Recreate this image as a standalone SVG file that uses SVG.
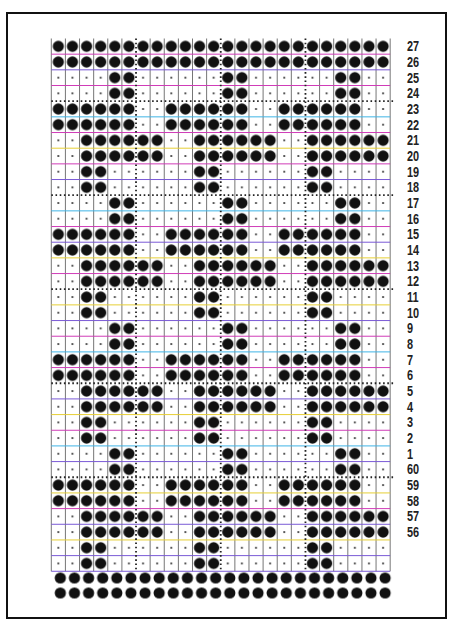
<svg xmlns="http://www.w3.org/2000/svg" xmlns:xlink="http://www.w3.org/1999/xlink" width="451" height="624" viewBox="0 0 451 624">
<style>
.bg{fill:#fff}
.frame{fill:none;stroke:#111;stroke-width:2}
.v{fill:none;stroke:#666;stroke-width:0.9}
.hm{stroke:#d03cb8;stroke-width:1}
.hc{stroke:#3fb4e6;stroke-width:1}
.hp{stroke:#7a5ad6;stroke-width:1}
.hy{stroke:#e6cf35;stroke-width:1}
.dot{fill:none;stroke:#222;stroke-width:1.8;stroke-dasharray:1.6 2.6}
.B{fill:#111}
.S{fill:#333}
.lbl{font-family:"Liberation Sans",Arial,sans-serif;font-size:14px;font-weight:bold;fill:#222}
</style>
<defs>
<circle id="b" class="B" r="5.6"/>
<circle id="s" class="S" r="1.1"/>
<pattern id="pA" patternUnits="userSpaceOnUse" x="51.3" y="38.5" width="112.96" height="31.34">
<g id="rA"><use href="#b" x="7.06" y="7.835"/><use href="#b" x="21.18" y="7.835"/><use href="#b" x="35.3" y="7.835"/><use href="#b" x="49.42" y="7.835"/><use href="#b" x="63.54" y="7.835"/><use href="#b" x="77.66" y="7.835"/><use href="#b" x="91.78" y="7.835"/><use href="#b" x="105.9" y="7.835"/></g>
<use href="#rA" y="15.67"/>
</pattern>
<pattern id="pB" patternUnits="userSpaceOnUse" x="51.3" y="38.5" width="112.96" height="31.34">
<g id="rB"><use href="#s" x="7.06" y="7.835"/><use href="#s" x="21.18" y="7.835"/><use href="#s" x="35.3" y="7.835"/><use href="#s" x="49.42" y="7.835"/><use href="#b" x="63.54" y="7.835"/><use href="#b" x="77.66" y="7.835"/><use href="#s" x="91.78" y="7.835"/><use href="#s" x="105.9" y="7.835"/></g>
<use href="#rB" y="15.67"/>
</pattern>
<pattern id="pC" patternUnits="userSpaceOnUse" x="51.3" y="38.5" width="112.96" height="31.34">
<g id="rC"><use href="#b" x="7.06" y="7.835"/><use href="#b" x="21.18" y="7.835"/><use href="#b" x="35.3" y="7.835"/><use href="#b" x="49.42" y="7.835"/><use href="#b" x="63.54" y="7.835"/><use href="#b" x="77.66" y="7.835"/><use href="#s" x="91.78" y="7.835"/><use href="#s" x="105.9" y="7.835"/></g>
<use href="#rC" y="15.67"/>
</pattern>
<pattern id="pD" patternUnits="userSpaceOnUse" x="51.3" y="38.5" width="112.96" height="31.34">
<g id="rD"><use href="#s" x="7.06" y="7.835"/><use href="#s" x="21.18" y="7.835"/><use href="#b" x="35.3" y="7.835"/><use href="#b" x="49.42" y="7.835"/><use href="#b" x="63.54" y="7.835"/><use href="#b" x="77.66" y="7.835"/><use href="#b" x="91.78" y="7.835"/><use href="#b" x="105.9" y="7.835"/></g>
<use href="#rD" y="15.67"/>
</pattern>
<pattern id="pE" patternUnits="userSpaceOnUse" x="51.3" y="38.5" width="112.96" height="31.34">
<g id="rE"><use href="#s" x="7.06" y="7.835"/><use href="#s" x="21.18" y="7.835"/><use href="#b" x="35.3" y="7.835"/><use href="#b" x="49.42" y="7.835"/><use href="#s" x="63.54" y="7.835"/><use href="#s" x="77.66" y="7.835"/><use href="#s" x="91.78" y="7.835"/><use href="#s" x="105.9" y="7.835"/></g>
<use href="#rE" y="15.67"/>
</pattern>
<pattern id="pF" patternUnits="userSpaceOnUse" x="53.3" y="570.5" width="14.12" height="15">
<use href="#b" x="7.06" y="7.5"/>
</pattern>
</defs>

<rect class="bg" x="0" y="0" width="451" height="624"/>
<rect class="frame" x="7" y="13" width="439" height="605"/>

<g id="grid">
<path class="v" d="M51.3 38.5v532.8M65.42 38.5v532.8M79.54 38.5v532.8M93.66 38.5v532.8M107.78 38.5v532.8M121.9 38.5v532.8M150.14 38.5v532.8M164.26 38.5v532.8M178.38 38.5v532.8M192.5 38.5v532.8M206.62 38.5v532.8M234.86 38.5v532.8M248.98 38.5v532.8M263.1 38.5v532.8M277.22 38.5v532.8M291.34 38.5v532.8M319.58 38.5v532.8M333.7 38.5v532.8M347.82 38.5v532.8M361.94 38.5v532.8M376.06 38.5v532.8M390.18 38.5v532.8"/>
<g id="hlines">
<line class="hm" x1="51.3" y1="54.17" x2="390.18" y2="54.17"/>
<line class="hp" x1="51.3" y1="69.84" x2="390.18" y2="69.84"/>
<line class="hm" x1="51.3" y1="85.51" x2="390.18" y2="85.51"/>
<line class="hc" x1="51.3" y1="116.85" x2="390.18" y2="116.85"/>
<line class="hm" x1="51.3" y1="132.52" x2="390.18" y2="132.52"/>
<line class="hy" x1="51.3" y1="148.19" x2="390.18" y2="148.19"/>
<line class="hm" x1="51.3" y1="163.86" x2="390.18" y2="163.86"/>
<line class="hp" x1="51.3" y1="179.53" x2="390.18" y2="179.53"/>
<line class="hc" x1="51.3" y1="210.87" x2="390.18" y2="210.87"/>
<line class="hm" x1="51.3" y1="226.54" x2="390.18" y2="226.54"/>
<line class="hp" x1="51.3" y1="242.21" x2="390.18" y2="242.21"/>
<line class="hy" x1="51.3" y1="257.88" x2="390.18" y2="257.88"/>
<line class="hm" x1="51.3" y1="273.55" x2="390.18" y2="273.55"/>
<line class="hy" x1="51.3" y1="304.89" x2="390.18" y2="304.89"/>
<line class="hp" x1="51.3" y1="320.56" x2="390.18" y2="320.56"/>
<line class="hm" x1="51.3" y1="336.23" x2="390.18" y2="336.23"/>
<line class="hc" x1="51.3" y1="351.9" x2="390.18" y2="351.9"/>
<line class="hm" x1="51.3" y1="367.57" x2="390.18" y2="367.57"/>
<line class="hp" x1="51.3" y1="398.91" x2="390.18" y2="398.91"/>
<line class="hy" x1="51.3" y1="414.58" x2="390.18" y2="414.58"/>
<line class="hm" x1="51.3" y1="430.25" x2="390.18" y2="430.25"/>
<line class="hc" x1="51.3" y1="445.92" x2="390.18" y2="445.92"/>
<line class="hp" x1="51.3" y1="461.59" x2="390.18" y2="461.59"/>
<line class="hy" x1="51.3" y1="492.93" x2="390.18" y2="492.93"/>
<line class="hm" x1="51.3" y1="508.6" x2="390.18" y2="508.6"/>
<line class="hp" x1="51.3" y1="524.27" x2="390.18" y2="524.27"/>
<line class="hy" x1="51.3" y1="539.94" x2="390.18" y2="539.94"/>
<line class="hp" x1="51.3" y1="555.61" x2="390.18" y2="555.61"/>
<line class="hp" x1="51.3" y1="571.28" x2="390.18" y2="571.28"/>
</g>
<path class="dot" d="M51.3 101.18H394M51.3 195.2H394M51.3 289.22H394M51.3 383.24H394M51.3 477.26H394M136.02 38.5V571.28M220.74 38.5V571.28M305.46 38.5V571.28"/>
</g>

<g id="holes">
<rect x="51.3" y="38.5" width="338.88" height="31.34" fill="url(#pA)"/>
<rect x="51.3" y="69.84" width="338.88" height="31.34" fill="url(#pB)"/>
<rect x="51.3" y="101.18" width="338.88" height="31.34" fill="url(#pC)"/>
<rect x="51.3" y="132.52" width="338.88" height="31.34" fill="url(#pD)"/>
<rect x="51.3" y="163.86" width="338.88" height="31.34" fill="url(#pE)"/>
<rect x="51.3" y="195.2" width="338.88" height="31.34" fill="url(#pB)"/>
<rect x="51.3" y="226.54" width="338.88" height="31.34" fill="url(#pC)"/>
<rect x="51.3" y="257.88" width="338.88" height="31.34" fill="url(#pD)"/>
<rect x="51.3" y="289.22" width="338.88" height="31.34" fill="url(#pE)"/>
<rect x="51.3" y="320.56" width="338.88" height="31.34" fill="url(#pB)"/>
<rect x="51.3" y="351.9" width="338.88" height="31.34" fill="url(#pC)"/>
<rect x="51.3" y="383.24" width="338.88" height="31.34" fill="url(#pD)"/>
<rect x="51.3" y="414.58" width="338.88" height="31.34" fill="url(#pE)"/>
<rect x="51.3" y="445.92" width="338.88" height="31.34" fill="url(#pB)"/>
<rect x="51.3" y="477.26" width="338.88" height="31.34" fill="url(#pC)"/>
<rect x="51.3" y="508.6" width="338.88" height="31.34" fill="url(#pD)"/>
<rect x="51.3" y="539.94" width="338.88" height="31.34" fill="url(#pE)"/>
<rect x="53.3" y="570.5" width="338.88" height="30" fill="url(#pF)"/>
</g>

<g id="labels" transform="translate(407,0) scale(0.78,1)">
<text class="lbl" x="0" y="51.3">27</text>
<text class="lbl" x="0" y="67">26</text>
<text class="lbl" x="0" y="82.7">25</text>
<text class="lbl" x="0" y="98.3">24</text>
<text class="lbl" x="0" y="114">23</text>
<text class="lbl" x="0" y="129.7">22</text>
<text class="lbl" x="0" y="145.4">21</text>
<text class="lbl" x="0" y="161">20</text>
<text class="lbl" x="0" y="176.7">19</text>
<text class="lbl" x="0" y="192.4">18</text>
<text class="lbl" x="0" y="208">17</text>
<text class="lbl" x="0" y="223.7">16</text>
<text class="lbl" x="0" y="239.4">15</text>
<text class="lbl" x="0" y="255">14</text>
<text class="lbl" x="0" y="270.7">13</text>
<text class="lbl" x="0" y="286.4">12</text>
<text class="lbl" x="0" y="302.1">11</text>
<text class="lbl" x="0" y="317.7">10</text>
<text class="lbl" x="0" y="333.4">9</text>
<text class="lbl" x="0" y="349.1">8</text>
<text class="lbl" x="0" y="364.7">7</text>
<text class="lbl" x="0" y="380.4">6</text>
<text class="lbl" x="0" y="396.1">5</text>
<text class="lbl" x="0" y="411.7">4</text>
<text class="lbl" x="0" y="427.4">3</text>
<text class="lbl" x="0" y="443.1">2</text>
<text class="lbl" x="0" y="458.8">1</text>
<text class="lbl" x="0" y="474.4">60</text>
<text class="lbl" x="0" y="490.1">59</text>
<text class="lbl" x="0" y="505.8">58</text>
<text class="lbl" x="0" y="521.4">57</text>
<text class="lbl" x="0" y="537.1">56</text>
</g>
</svg>
